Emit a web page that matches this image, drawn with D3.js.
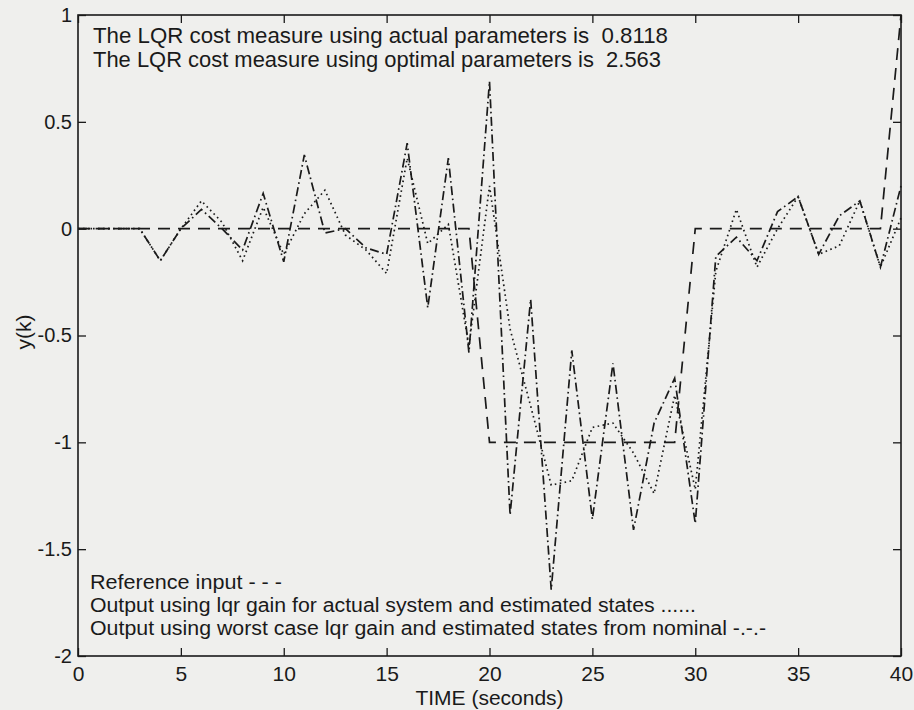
<!DOCTYPE html>
<html>
<head>
<meta charset="utf-8">
<script src="https://cdn.jsdelivr.net/npm/d3@7"></script>
<style>
  html, body { margin: 0; padding: 0; background: #efefed; }
  svg { display: block; }
  text { fill: #1a1a1a; }
</style>
</head>
<body>
<svg id="chart" width="914" height="710"></svg>
<script>
// Sample instants k (seconds)
const timeSteps = d3.range(0, 41);

// Reference input (dashed)
const referenceInput = [
  0, 0, 0, 0, 0, 0, 0, 0, 0, 0,
  0, 0, 0, 0, 0, 0, 0, 0, 0, 0,
  -1, -1, -1, -1, -1, -1, -1, -1, -1, -1,
  0, 0, 0, 0, 0, 0, 0, 0, 0, 0,
  1
];

// Output using lqr gain for actual system and estimated states (dotted)
const outputActualGain = [
  0, 0, 0, 0, -0.15, 0, 0.13, 0.03, -0.15, 0.10,
  -0.12, 0.07, 0.18, -0.03, -0.10, -0.21, 0.33, -0.07, 0.02, -0.55,
  0.20, -0.47, -0.83, -1.20, -1.18, -0.93, -0.91, -1.05, -1.24, -0.78,
  -1.22, -0.20, 0.09, -0.18, 0.00, 0.15, -0.12, -0.08, 0.13, -0.18,
  0.05
];

// Output using worst case lqr gain and estimated states from nominal (dash-dot)
const outputWorstGain = [
  0, 0, 0, 0, -0.15, 0, 0.09, 0.00, -0.10, 0.165,
  -0.155, 0.345, -0.02, 0.00, -0.09, -0.12, 0.40, -0.37, 0.33, -0.58,
  0.69, -1.34, -0.33, -1.69, -0.57, -1.36, -0.63, -1.41, -0.91, -0.70,
  -1.38, -0.13, -0.04, -0.15, 0.08, 0.15, -0.12, 0.06, 0.13, -0.18,
  0.20
];

const xTickValues = [0, 5, 10, 15, 20, 25, 30, 35, 40];
const yTickValues = [-2, -1.5, -1, -0.5, 0, 0.5, 1];
const yTickLabels = ["-2", "-1.5", "-1", "-0.5", "0", "0.5", "1"];

const costLines = [
  "The LQR cost measure using actual parameters is  0.8118",
  "The LQR cost measure using optimal parameters is  2.563"
];
const costLineWidths = [575, 568];
const legendLines = [
  "Reference input - - -",
  "Output using lqr gain for actual system and estimated states ......",
  "Output using worst case lqr gain and estimated states from nominal -.-.-"
];
const legendLineWidths = [192, 606, 676];

const box = { left: 78, right: 901, top: 15, bottom: 656 };
const svg = d3.select("#chart");

const x = d3.scaleLinear().domain([0, 40]).range([box.left, box.right]);
const y = d3.scaleLinear().domain([-2, 1]).range([box.bottom, box.top]);

const ink = "#1a1a1a";
const sans = "'Liberation Sans', Arial, Helvetica, sans-serif";

// Frame
svg.append("rect")
  .attr("x", box.left).attr("y", box.top)
  .attr("width", box.right - box.left).attr("height", box.bottom - box.top)
  .attr("fill", "none").attr("stroke", ink).attr("stroke-width", 1.6);

// Axes with inward ticks on all four sides
const tickLen = 8;
const xBottom = svg.append("g").attr("transform", `translate(0,${box.bottom})`)
  .call(d3.axisBottom(x).tickValues(xTickValues).tickSizeInner(-tickLen).tickSizeOuter(0)
    .tickFormat(d3.format("d")));
const xTop = svg.append("g").attr("transform", `translate(0,${box.top})`)
  .call(d3.axisTop(x).tickValues(xTickValues).tickSizeInner(-tickLen).tickSizeOuter(0).tickFormat(""));
const yLeft = svg.append("g").attr("transform", `translate(${box.left},0)`)
  .call(d3.axisLeft(y).tickValues(yTickValues).tickSizeInner(-tickLen).tickSizeOuter(0).tickPadding(6)
    .tickFormat((d, i) => yTickLabels[i]));
const yRight = svg.append("g").attr("transform", `translate(${box.right},0)`)
  .call(d3.axisRight(y).tickValues(yTickValues).tickSizeInner(-tickLen).tickSizeOuter(0).tickFormat(""));

[xBottom, xTop, yLeft, yRight].forEach(g => {
  g.select(".domain").remove();
  g.selectAll(".tick line").attr("stroke", ink).attr("stroke-width", 1.3);
});

yLeft.selectAll(".tick text")
  .attr("font-family", sans).attr("font-size", 20).attr("fill", ink);

xBottom.selectAll(".tick text")
  .attr("font-family", sans).attr("font-size", 21).attr("fill", ink)
  .attr("y", 25).attr("dy", null);

// Axis titles
svg.append("text")
  .attr("x", (box.left + box.right) / 2).attr("y", 705)
  .attr("text-anchor", "middle")
  .attr("font-family", sans).attr("font-size", 21)
  .text("TIME (seconds)");

svg.append("text")
  .attr("transform", "translate(31,332) rotate(-90)")
  .attr("text-anchor", "middle")
  .attr("font-family", sans).attr("font-size", 21)
  .text("y(k)");

// Series
svg.append("clipPath").attr("id", "plot-clip")
  .append("rect").attr("x", box.left).attr("y", box.top - 2)
  .attr("width", box.right - box.left + 2).attr("height", box.bottom - box.top + 4);

const line = d3.line().x((d, i) => x(timeSteps[i])).y(d => y(d));

const series = [
  { values: referenceInput, dash: "12,8" },
  { values: outputActualGain, dash: "1.6,3.4" },
  { values: outputWorstGain, dash: "9,3.5,1.6,3.5" }
];

svg.append("g").attr("clip-path", "url(#plot-clip)")
  .selectAll("path").data(series).join("path")
  .attr("d", s => line(s.values))
  .attr("fill", "none")
  .attr("stroke", ink)
  .attr("stroke-width", 1.7)
  .attr("stroke-dasharray", s => s.dash);

// Cost annotations
svg.append("g").selectAll("text").data(costLines).join("text")
  .attr("x", 93).attr("y", (d, i) => 43 + i * 24)
  .attr("font-family", sans).attr("font-size", 21.5)
  .attr("textLength", (d, i) => costLineWidths[i])
  .attr("lengthAdjust", "spacingAndGlyphs")
  .style("white-space", "pre")
  .text(d => d);

// Legend annotations
svg.append("g").selectAll("text").data(legendLines).join("text")
  .attr("x", 90).attr("y", (d, i) => 589 + i * 23)
  .attr("font-family", sans).attr("font-size", 20)
  .attr("textLength", (d, i) => legendLineWidths[i])
  .attr("lengthAdjust", "spacingAndGlyphs")
  .style("white-space", "pre")
  .text(d => d);
</script>
</body>
</html>
